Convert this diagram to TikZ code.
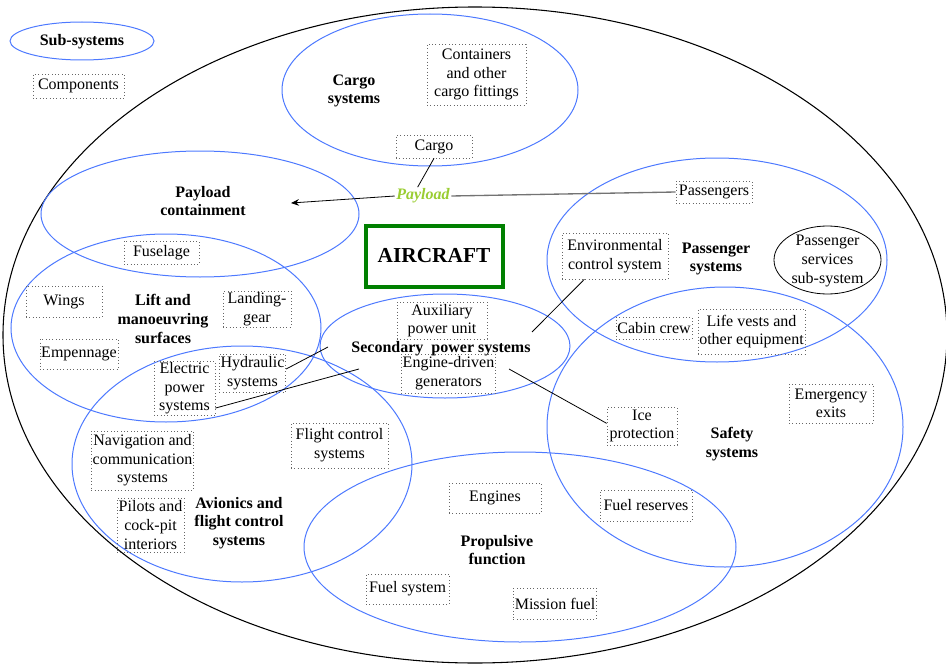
\documentclass[tikz,border=0pt]{standalone}
\usepackage{fontspec}
\setmainfont{Liberation Serif}
\usepackage{xcolor}
\usepackage{tikz}
\usetikzlibrary{arrows.meta}
\definecolor{sysblue}{RGB}{77,121,255}
\definecolor{acgreen}{RGB}{0,128,0}
\definecolor{payloadgreen}{RGB}{154,205,50}
\tikzset{
  syring/.style={draw=sysblue, line width=0.75pt},
  outring/.style={draw=black, line width=0.8pt},
  syslabel/.style={align=center, font=\fontsize{12}{14}\selectfont\bfseries, inner sep=0pt},
  cbox/.style 2 args={draw=black!60, dotted, line width=0.5pt, inner sep=1pt, align=center,
    font=\fontsize{12}{14}\selectfont, minimum width=#1*0.75pt, minimum height=#2*0.75pt},
  link/.style={draw=black, line width=0.6pt},
  paylink/.style={draw=black!55, line width=1pt},
}
\begin{document}
\begin{tikzpicture}[x=0.75pt, y=-0.75pt]
\useasboundingbox (0,0) rectangle (946,667);
\draw[outring] (475,335) ellipse [x radius=472, y radius=328];
\draw[syring] (82,41) ellipse [x radius=72, y radius=19];
\draw[syring] (430,90) ellipse [x radius=148, y radius=76];
\draw[syring] (200,214) ellipse [x radius=159, y radius=63];
\draw[syring] (717,260) ellipse [x radius=170, y radius=102];
\draw[syring] (725,427) ellipse [x radius=178, y radius=140];
\draw[syring] (445,346) ellipse [x radius=125, y radius=52];
\draw[syring] (166,328) ellipse [x radius=155, y radius=94];
\draw[syring] (242,464) ellipse [x radius=170, y radius=118];
\draw[syring] (520,547) ellipse [x radius=216, y radius=95];
\draw[outring, line width=0.6pt] (827.5,260) ellipse [x radius=53.5, y radius=34];

\node[syslabel] (subsys) at (82,42) {Sub-systems};
\node[cbox={91}{24}] (components) at (78.5,86) {Components};

\node[syslabel] (cargosys) at (354,91) {Cargo\\systems};
\node[cbox={99}{61}] (containers) at (476.5,74.5) {Containers\\and other\\cargo fittings};
\node[cbox={76}{23}] (cargo) at (434,146.5) {Cargo};

\node[font=\fontsize{12}{14}\selectfont\bfseries\itshape, text=payloadgreen, inner sep=1pt] (payload) at (423,196) {Payload};
\node[syslabel] (paycont) at (203,201) {Payload\\containment};
\coordinate (payend) at (291,203);

\node[draw=acgreen, line width=3pt, minimum width=137*0.75pt, minimum height=61*0.75pt,
  font=\fontsize{16}{18}\selectfont\bfseries] (aircraft) at (434,256) {AIRCRAFT};

\node[syslabel] (passys) at (716,259) {Passenger\\systems};
\node[cbox={76}{22}] (passengers) at (714,192) {Passengers};
\node[cbox={106}{46}] (envctrl) at (615,256) {Environmental\\control system};
\node[align=center, font=\fontsize{12}{14}\selectfont, inner sep=0pt] (passerv) at (827.5,261) {Passenger\\services\\sub-system};
\node[cbox={76}{22}] (cabincrew) at (654,328) {Cabin crew};
\node[cbox={107}{45}] (lifevests) at (751.5,331.5) {Life vests and\\other equipment};

\node[syslabel] (safety) at (732,444) {Safety\\systems};
\node[cbox={84}{39}] (exits) at (831,403.5) {Emergency\\exits};
\node[cbox={70}{38}] (ice) at (642,426) {Ice\\protection};
\node[cbox={92}{31}] (fuelres) at (646,505.5) {Fuel reserves};

\node[syslabel] (secpower) at (441,349) {Secondary\ \ power systems};
\node[cbox={90}{37}] (apu) at (442,320.5) {Auxiliary\\power unit};
\node[cbox={91}{39}] (enggen) at (448.5,373.5) {Engine-driven\\generators};
\coordinate (envend) at (532,332);
\coordinate (hydend) at (328,347);
\coordinate (elecend) at (359,369);
\coordinate (genstart) at (509,369);

\node[syslabel] (lift) at (163,319) {Lift and\\manoeuvring\\surfaces};
\node[cbox={75}{23}] (fuselage) at (161.5,252.5) {Fuselage};
\node[cbox={76}{31}] (wings) at (64,301.5) {Wings};
\node[cbox={68}{30}] (landgear) at (257,309) {Landing-\\gear};
\node[cbox={76}{30}] (empennage) at (79,354) {Empennage};
\node[cbox={61}{38}] (hydraulic) at (252.5,373) {Hydraulic\\systems};
\node[cbox={61}{53}] (electric) at (184.5,388.5) {Electric\\power\\systems};

\node[syslabel] (avionics) at (239,523) {Avionics and\\flight control\\systems};
\node[cbox={99}{59}] (navcom) at (142.5,460.5) {Navigation and\\communication\\systems};
\node[cbox={67}{54}] (pilots) at (150.5,525) {Pilots and\\cock-pit\\interiors};
\node[cbox={97}{45}] (flightctrl) at (339.5,445.5) {Flight control\\systems};

\node[syslabel] (propulsive) at (497,550) {Propulsive\\function};
\node[cbox={92}{30}] (engines) at (495,498) {Engines};
\node[cbox={83}{30}] (fuelsys) at (407.5,589) {Fuel system};
\node[cbox={76}{31}] (missionfuel) at (555,603.5) {Mission fuel};

\draw[link] (cargo.south) -- ([xshift=-4]payload.north);
\draw[paylink] (payload.east) -- (passengers.west);
\draw[link, -{Stealth[length=6pt, width=5pt]}] (payload.west) -- (payend);
\draw[link] ([xshift=17]envctrl.south west) -- (envend);
\draw[link] ([yshift=3]hydraulic.east) -- (hydend);
\draw[link] ([yshift=6]electric.south east) -- (elecend);
\draw[link] (genstart) -- ([yshift=2]ice.west);
\end{tikzpicture}
\end{document}
